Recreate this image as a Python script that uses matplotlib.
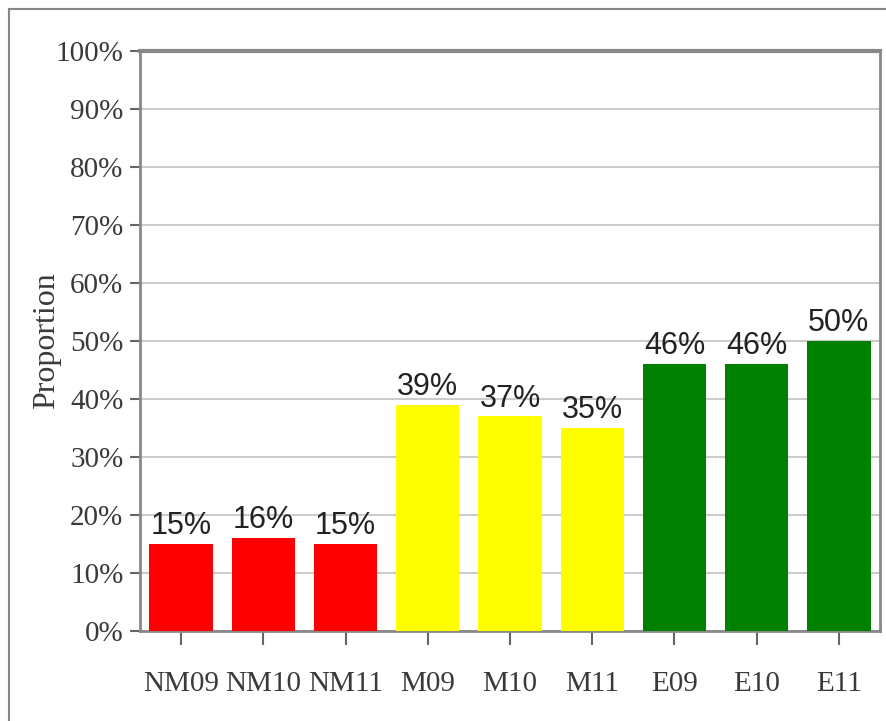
import matplotlib
matplotlib.use("Agg")
import matplotlib.pyplot as plt
from matplotlib.lines import Line2D
from matplotlib.ticker import FuncFormatter, MultipleLocator

categories = ["NM09", "NM10", "NM11", "M09", "M10", "M11", "E09", "E10", "E11"]
values = [15, 16, 15, 39, 37, 35, 46, 46, 50]
colors = ["#ff0000"] * 3 + ["#ffff00"] * 3 + ["#008000"] * 3

W, H = 886, 721
fig = plt.figure(figsize=(W / 100, H / 100), dpi=100)
ax = fig.add_axes([140 / W, 1 - 631 / H, 740 / W, 580 / H])

x = list(range(len(categories)))
ax.bar(x, values, width=0.77, color=colors, zorder=3)
ax.set_xlim(-0.5, len(categories) - 0.5)
ax.set_ylim(0, 100)

for xi, v in zip(x, values):
    ax.text(xi, v + 0.5, f"{v}%", ha="center", va="bottom",
            fontsize=22, family="Liberation Sans", color="#222222", zorder=4)

ax.yaxis.set_major_locator(MultipleLocator(10))
ax.yaxis.set_major_formatter(FuncFormatter(lambda v, p: f"{int(v)}%"))
ax.set_xticks(x)
ax.set_xticklabels(categories)
ax.grid(axis="y", color="#cccccc", linewidth=1.5, zorder=0)

for lab in ax.get_xticklabels() + ax.get_yticklabels():
    lab.set_family("Liberation Serif")
    lab.set_color("#3a3a3a")
    lab.set_fontsize(21)

ax.tick_params(axis="y", length=7, width=1.5, color="#666666", pad=5)
ax.tick_params(axis="x", length=10, width=1.5, color="#666666", pad=19)

for s in ["left", "bottom", "right"]:
    ax.spines[s].set_color("#888888")
    ax.spines[s].set_linewidth(2)
ax.spines["top"].set_color("#888888")
ax.spines["top"].set_linewidth(3)

ax.set_ylabel("Proportion", family="Liberation Serif", fontsize=23,
              color="#3a3a3a")
ax.yaxis.set_label_coords(-79 / 740, 0.5)

# figure frame (left and top edges)
fig.add_artist(Line2D([9 / W, 9 / W], [0, 1 - 9 / H], color="#888888",
                      linewidth=1.5, transform=fig.transFigure))
fig.add_artist(Line2D([9 / W, 1], [1 - 9 / H, 1 - 9 / H], color="#888888",
                      linewidth=1.5, transform=fig.transFigure))

fig.savefig("out.png", dpi=100)
